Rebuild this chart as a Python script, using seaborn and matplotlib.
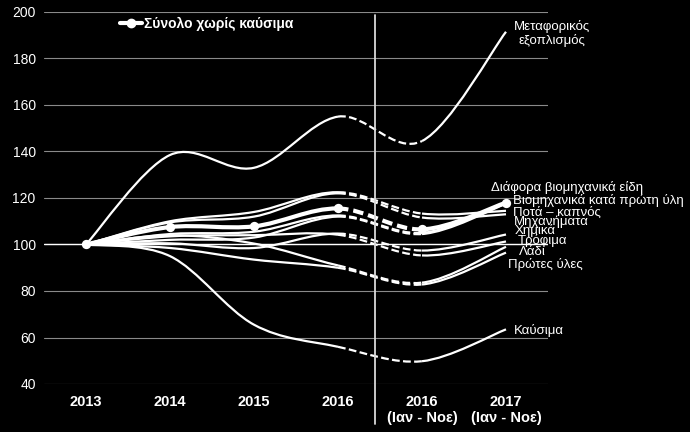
import seaborn as sns
import matplotlib.pyplot as plt
import pandas as pd
from matplotlib.path import Path
from matplotlib.patches import PathPatch
from matplotlib.lines import Line2D

periods = ['2013', '2014', '2015', '2016', '2016\n(Ιαν - Νοε)', '2017\n(Ιαν - Νοε)']

total_ex_fuel = [100, 107.5, 107.8, 115.5, 106.5, 118]
transport = [100, 138.5, 133, 155, 144.5, 191.5]
fuel = [100, 95, 65.5, 56, 49.8, 63.5]
misc_ind = [100, 104.5, 105.5, 112.5, 105, 118]
ind_raw = [100, 102, 103, 112, 104.5, 117.5]
drinks = [100, 110, 114, 122.5, 113.3, 114.5]
machinery = [100, 109.5, 112, 122, 111.6, 113]
chemicals = [100, 100.5, 98.5, 104.7, 97.4, 104.3]
food = [100, 103.5, 104, 104.2, 95.3, 101.3]
oil = [100, 104, 100.4, 91, 83.6, 99]
raw = [100, 98.5, 93.5, 90, 82.8, 96.5]

series = {
    'Μεταφορικός\nεξοπλισμός': transport,
    'Καύσιμα': fuel,
    'Διάφορα βιομηχανικά είδη': misc_ind,
    'Βιομηχανικά κατά πρώτη ύλη': ind_raw,
    'Ποτά – καπνός': drinks,
    'Μηχανήματα': machinery,
    'Χημικά': chemicals,
    'Τρόφιμα': food,
    'Λάδι': oil,
    'Πρώτες ύλες': raw,
}

# label offsets from the last point, in pixels
label_pos = {
    'Μεταφορικός\nεξοπλισμός': (46, -2, 'center'),
    'Καύσιμα': (8, -1, 'left'),
    'Διάφορα βιομηχανικά είδη': (-15, 15, 'left'),
    'Βιομηχανικά κατά πρώτη ύλη': (7, 3, 'left'),
    'Ποτά – καπνός': (7, -2, 'left'),
    'Μηχανήματα': (8, -7, 'left'),
    'Χημικά': (9, 4, 'left'),
    'Τρόφιμα': (12, 1, 'left'),
    'Λάδι': (13, -5, 'left'),
    'Πρώτες ύλες': (2, -12, 'left'),
}

sns.set_theme(style='dark')
plt.rcParams['font.family'] = ['Liberation Sans', 'DejaVu Sans']


def smooth_segments(ax, ys, lw, dashes):
    xs = list(range(len(ys)))
    n = len(ys)

    def seg(i):
        a, b = max(i - 1, 0), min(i + 2, n - 1)
        c1 = (xs[i] + (xs[i + 1] - xs[a]) / 6, ys[i] + (ys[i + 1] - ys[a]) / 6)
        c2 = (xs[i + 1] - (xs[b] - xs[i]) / 6, ys[i + 1] - (ys[b] - ys[i]) / 6)
        return [c1, c2, (xs[i + 1], ys[i + 1])]

    groups = [([0, 1, 2], '-'), ([3], dashes), ([4], '-')]
    for idx, ls in groups:
        verts = [(xs[idx[0]], ys[idx[0]])]
        codes = [Path.MOVETO]
        for i in idx:
            verts += seg(i)
            codes += [Path.CURVE4] * 3
        ax.add_patch(PathPatch(Path(verts, codes), fill=False, edgecolor='white',
                               lw=lw, linestyle=ls, capstyle='butt'))


fig = plt.figure(figsize=(6.9, 4.32), dpi=100, facecolor='black')
ax = fig.add_axes([44 / 690, 1 - 384 / 432, 504 / 690, 372 / 432])
ax.set_facecolor('black')

for name, vals in series.items():
    smooth_segments(ax, vals, 1.6, (0, (3.5, 1.5)))
    dx, dy, ha = label_pos[name]
    ax.annotate(name, xy=(5, vals[-1]), xytext=(dx, dy), textcoords='offset pixels',
                color='white', fontsize=9.5, ha=ha, va='center', linespacing=1.1,
                annotation_clip=False)

smooth_segments(ax, total_ex_fuel, 3.0, (0, (2.5, 1.2)))
df_tot = pd.DataFrame({'x': range(len(total_ex_fuel)), 'y': total_ex_fuel})
sns.scatterplot(data=df_tot, x='x', y='y', ax=ax, color='white', s=45,
                edgecolor='white', linewidth=0, zorder=5)

ax.set_xlim(-0.5, 5.5)
ax.set_ylim(40, 200)
ax.set_yticks(range(40, 201, 20))
ax.set_xticks(range(len(periods)))
ax.set_xticklabels(periods, fontweight='bold', fontsize=10.5, color='white', linespacing=1.15)
ax.tick_params(axis='y', colors='white', labelsize=10, length=0, pad=6)
ax.tick_params(axis='x', colors='white', length=0, pad=8)
ax.set_xlabel('')
ax.set_ylabel('')
ax.grid(False)
for y in range(40, 201, 20):
    ax.axhline(y, color='#8a8a8a', lw=0.8, zorder=0)
ax.axhline(100, color='white', lw=1.0, zorder=1)
for s in ax.spines.values():
    s.set_visible(False)

ax.plot([3.44, 3.44], [198.7, 22.8], color='#d9d9d9', lw=1.3, clip_on=False)

handle = Line2D([], [], color='white', lw=3, marker='o', markersize=6)
leg = ax.legend([handle], ['Σύνολο χωρίς καύσιμα'], loc='upper left',
                bbox_to_anchor=(0.151, 0.987), frameon=False, borderpad=0,
                borderaxespad=0, handlelength=1.6, handletextpad=0.1,
                prop={'weight': 'bold', 'size': 10})
for t in leg.get_texts():
    t.set_color('white')

plt.savefig('out.png', dpi=100, facecolor='black')
